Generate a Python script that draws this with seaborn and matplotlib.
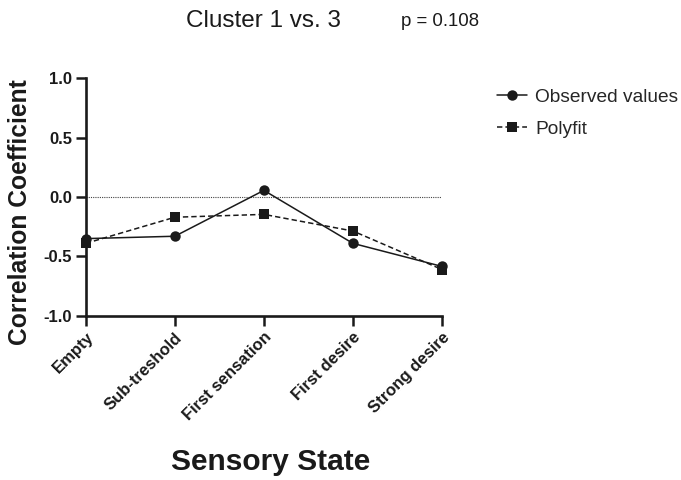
import matplotlib
matplotlib.use("Agg")
import matplotlib.pyplot as plt
import seaborn as sns
import pandas as pd

states = ["Empty", "Sub-treshold", "First sensation", "First desire", "Strong desire"]
observed = [-0.35, -0.33, 0.056, -0.39, -0.584]
polyfit = [-0.39, -0.17, -0.146, -0.286, -0.61]

sns.set_theme(style="ticks")
plt.rcParams['font.family'] = ['Liberation Sans', 'DejaVu Sans']

df = pd.DataFrame({
    "state": states * 2,
    "pos": list(range(len(states))) * 2,
    "value": observed + polyfit,
    "series": ["Observed values"] * len(states) + ["Polyfit"] * len(states),
})

ink = "#1a1a1a"
fig = plt.figure(figsize=(6.81, 4.8), dpi=100)
ax = fig.add_axes([0.126, 0.342, 0.523, 0.495])

sns.lineplot(data=df, x="pos", y="value", hue="series", style="series",
             markers={"Observed values": "o", "Polyfit": "s"},
             dashes={"Observed values": "", "Polyfit": (3.5, 2)},
             palette={"Observed values": ink, "Polyfit": ink},
             markersize=7.5, markeredgewidth=0, linewidth=1.1, ax=ax)
for ln in ax.lines:
    ln.set_clip_on(False)

ax.axhline(0, color="#444444", linewidth=0.8, linestyle=(0, (1, 1)), zorder=0)

ax.set_xlim(0, len(states) - 1)
ax.set_ylim(-1.0, 1.0)
ax.set_yticks([-1.0, -0.5, 0.0, 0.5, 1.0])
ax.set_yticklabels(["-1.0", "-0.5", "0.0", "0.5", "1.0"], fontweight="bold", fontsize=12)
ax.set_xticks(range(len(states)))
ax.set_xticklabels(states, rotation=45, ha="right", rotation_mode="anchor",
                   fontweight="bold", fontsize=12)
ax.tick_params(axis="both", width=1.8, length=7, color=ink, labelcolor=ink, pad=3)

for side in ["top", "right"]:
    ax.spines[side].set_visible(False)
for side in ["left", "bottom"]:
    ax.spines[side].set_linewidth(1.9)
    ax.spines[side].set_color(ink)

ax.set_ylabel("")
ax.set_xlabel("")
fig.text(20 / 681, 1 - 212 / 480, "Correlation Coefficient", rotation=90, fontsize=17.7,
         fontweight="bold", color=ink, ha="center", va="center")
fig.text(270.5 / 681, 1 - 462 / 480, "Sensory State", fontsize=21.5,
         fontweight="bold", color=ink, ha="center", va="center")

fig.text(263 / 681, 1 - 21 / 480, "Cluster 1 vs. 3", fontsize=17.5, ha="center", va="center", color=ink)
fig.text(401 / 681, 1 - 21 / 480, "p = 0.108", fontsize=13.4, ha="left", va="center", color=ink)

ax.legend(title=None, loc="upper left", bbox_to_anchor=(0.718, 0.831),
          bbox_transform=fig.transFigure, frameon=False, borderaxespad=0,
          fontsize=13.8, handlelength=1.6, handletextpad=0.4, labelspacing=0.75)

fig.savefig("out.png", dpi=100)
